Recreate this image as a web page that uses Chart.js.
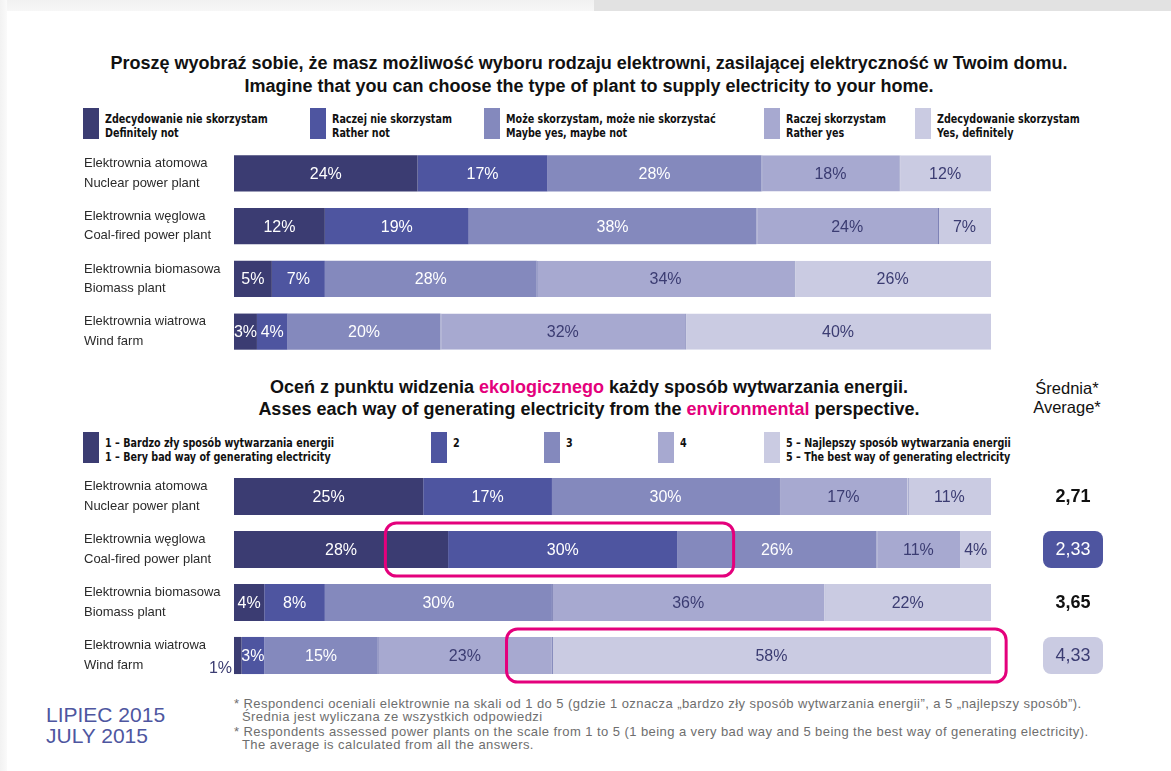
<!DOCTYPE html>
<html lang="pl">
<head>
<meta charset="utf-8">
<title>Elektrownie - lipiec 2015</title>
<script src="https://cdn.jsdelivr.net/npm/chart.js@4.4.1/dist/chart.umd.min.js"></script>
<style>
    html, body { margin: 0; padding: 0; }
    body {
        width: 1171px; height: 771px; position: relative; overflow: hidden;
        background: #fff; color: #111;
        font-family: 'Liberation Sans', Arial, Helvetica, sans-serif;
    }
    .strip-top { position: absolute; left: 0; top: 0; width: 594px; height: 11px; background: linear-gradient(#f1f1f1, #f7f7f7); }
    .strip-top-r { position: absolute; left: 594px; top: 0; right: 0; height: 11px; background: #e2e2e2; }
    .strip-left { position: absolute; left: 0; top: 0; width: 7px; bottom: 0; background: linear-gradient(90deg, #f2f2f2, #fafafa); }
    .title { position: absolute; left: 0; width: 1178px; text-align: center; font-size: 18px; font-weight: bold; line-height: 23px; white-space: nowrap; }
    .pink { color: #e4007c; }
    .avg-head { position: absolute; left: 1017px; width: 100px; top: 379px; text-align: center; font-size: 16.5px; line-height: 19px; }
    .swatch { position: absolute; width: 16px; height: 31px; }
    .legend-text {
        position: absolute; white-space: nowrap; color: #111;
        font-family: 'DejaVu Sans Condensed', 'Liberation Sans', sans-serif;
        font-weight: bold; font-size: 13px; line-height: 14px;
        transform: scaleX(0.82); transform-origin: 0 0;
    }
    canvas { position: absolute; left: 0; }
    .date { position: absolute; left: 46px; top: 704px; font-size: 21px; line-height: 21px; color: #4e56a0; }
    .note {
        position: absolute; left: 234px; width: 900px; font-size: 13px; line-height: 13px; color: #6e6e6e;
        letter-spacing: 0.43px; padding-left: 8px; text-indent: -8px;
    }
</style>
</head>
<body>
<div class="strip-top"></div>
<div class="strip-top-r"></div>
<div class="strip-left"></div>

<div class="title" style="top:52px">Proszę wyobraź sobie, że masz możliwość wyboru rodzaju elektrowni, zasilającej elektryczność w Twoim domu.<br>Imagine that you can choose the type of plant to supply electricity to your home.</div>
<div id="legend-top"></div>
<canvas id="chart-top" width="1171" height="211" style="top:147px"></canvas>

<div class="title" style="top:376px;line-height:22px">Oceń z punktu widzenia <span class="pink">ekologicznego</span> każdy sposób wytwarzania energii.<br>Asses each way of generating electricity from the <span class="pink">environmental</span> perspective.</div>
<div class="avg-head">Średnia*<br>Average*</div>
<div id="legend-bottom"></div>
<canvas id="chart-bottom" width="1171" height="232" style="top:460px"></canvas>

<div class="date">LIPIEC 2015<br>JULY 2015</div>
<div class="note" style="top:697px">* Respondenci oceniali elektrownie na skali od 1 do 5 (gdzie 1 oznacza „bardzo zły sposób wytwarzania energii”, a 5 „najlepszy sposób”).<br>Średnia jest wyliczana ze wszystkich odpowiedzi</div>
<div class="note" style="top:725px">* Respondents assessed power plants on the scale from 1 to 5 (1 being a very bad way and 5 being the best way of generating electricity).<br>The average is calculated from all the answers.</div>

<script>
// plants (both charts share them)
var plantsPl = ['Elektrownia atomowa', 'Elektrownia węglowa', 'Elektrownia biomasowa', 'Elektrownia wiatrowa'];
var plantsEn = ['Nuclear power plant', 'Coal-fired power plant', 'Biomass plant', 'Wind farm'];

// top chart - would you use this plant (%)
var choiceLabelsPl = ['Zdecydowanie nie skorzystam', 'Raczej nie skorzystam', 'Może skorzystam, może nie skorzystać', 'Raczej skorzystam', 'Zdecydowanie skorzystam'];
var choiceLabelsEn = ['Definitely not', 'Rather not', 'Maybe yes, maybe not', 'Rather yes', 'Yes, definitely'];
var definitelyNot = [24, 12, 5, 3];
var ratherNot     = [17, 19, 7, 4];
var maybe         = [28, 38, 28, 20];
var ratherYes     = [18, 24, 34, 32];
var definitelyYes = [12, 7, 26, 40];

// bottom chart - environmental rating 1..5 (%)
var ratingLabelsPl = ['1 – Bardzo zły sposób wytwarzania energii', '2', '3', '4', '5 – Najlepszy sposób wytwarzania energii'];
var ratingLabelsEn = ['1 – Bery bad way of generating electricity', '', '', '', '5 – The best way of generating electricity'];
var rating1 = [25, 28, 4, 1];
var rating2 = [17, 30, 8, 3];
var rating3 = [30, 26, 30, 15];
var rating4 = [17, 11, 36, 23];
var rating5 = [11, 4, 22, 58];
var averages = [2.71, 2.33, 3.65, 4.33];

// styling
var colors = ['#3b3c72', '#4e55a0', '#8489bd', '#a7a9d0', '#cacbe2'];
var navy = '#3b3c72';
var pink = '#e4007c';
var fontFamily = "'Liberation Sans', Arial, Helvetica, sans-serif";

// legend layout (left edge of each swatch)
var legendTopX = [83, 310, 484, 764, 915];
var legendBottomX = [83, 431, 544, 658, 764];

function buildLegend(id, top, xs, linesPl, linesEn) {
    var box = document.getElementById(id);
    xs.forEach(function(x, i) {
        var sw = document.createElement('div');
        sw.className = 'swatch';
        sw.style.left = x + 'px';
        sw.style.top = top + 'px';
        sw.style.background = colors[i];
        box.appendChild(sw);

        var txt = document.createElement('div');
        txt.className = 'legend-text';
        txt.style.left = (x + 22) + 'px';
        txt.style.top = (top + 4) + 'px';
        txt.innerHTML = linesPl[i] + (linesEn[i] ? '<br>' + linesEn[i] : '');
        box.appendChild(txt);
    });
}

// rows are shown as 100% stacked bars (rounded shares don't always add to 100)
function toShares(series) {
    var totals = plantsPl.map(function(_, j) {
        return series.reduce(function(s, r) { return s + r[j]; }, 0);
    });
    return series.map(function(r) {
        return r.map(function(v, j) { return v * 100 / totals[j]; });
    });
}

var segmentLabels = {
    id: 'segmentLabels',
    afterDatasetsDraw: function(chart) {
        var ctx = chart.ctx;
        ctx.save();
        ctx.font = '16px ' + fontFamily;
        ctx.textBaseline = 'middle';
        chart.data.datasets.forEach(function(ds, i) {
            chart.getDatasetMeta(i).data.forEach(function(bar, j) {
                var v = ds.printed[j];
                if (v < 2) {
                    // too thin: put it under the start of the bar
                    ctx.textAlign = 'right';
                    ctx.fillStyle = navy;
                    ctx.fillText(v + '%', bar.base - 2, bar.y + bar.height / 2 - 5);
                    return;
                }
                ctx.textAlign = 'center';
                ctx.fillStyle = i < 3 ? '#fff' : navy;
                ctx.fillText(v + '%', (bar.x + bar.base) / 2, bar.y + 1);
            });
        });
        ctx.restore();
    }
};

var averageColumn = {
    id: 'averageColumn',
    afterDraw: function(chart, args, opts) {
        if (!opts.values) return;
        var ctx = chart.ctx;
        var xs = chart.scales.x;
        var meta = chart.getDatasetMeta(0);
        ctx.save();

        // highlight frames
        ctx.strokeStyle = pink;
        ctx.lineWidth = 3;
        (opts.highlights || []).forEach(function(h) {
            var bar = meta.data[h.row];
            var x0 = xs.getPixelForValue(h.from);
            var x1 = xs.getPixelForValue(h.to);
            var y0 = bar.y - bar.height / 2 - 8;
            var y1 = bar.y + bar.height / 2 + 8;
            ctx.beginPath();
            ctx.roundRect(x0, y0, x1 - x0, y1 - y0, 11);
            ctx.stroke();
        });

        // averages
        ctx.textAlign = 'center';
        ctx.textBaseline = 'middle';
        opts.values.forEach(function(v, j) {
            var bar = meta.data[j];
            var cx = chart.chartArea.right + 82;
            var style = opts.badges[j];
            if (style) {
                ctx.fillStyle = style.bg;
                ctx.beginPath();
                ctx.roundRect(cx - 30, bar.y - bar.height / 2, 60, bar.height, 8);
                ctx.fill();
                ctx.fillStyle = style.fg;
                ctx.font = '18px ' + fontFamily;
            } else {
                ctx.fillStyle = '#111';
                ctx.font = 'bold 18px ' + fontFamily;
            }
            ctx.fillText(v.toFixed(2).replace('.', ','), cx, bar.y + 1);
        });
        ctx.restore();
    }
};

function renderStack(canvasId, series, padTop, thickness, pluginOpts) {
    var plotted = toShares(series);
    new Chart(document.getElementById(canvasId), {
        type: 'bar',
        data: {
            labels: plantsPl.map(function(p, j) { return [p, plantsEn[j]]; }),
            datasets: series.map(function(s, i) {
                return {
                    data: plotted[i],
                    printed: s,
                    backgroundColor: colors[i],
                    borderColor: '#7d82b6',
                    borderWidth: i > 2 ? { left: 1, right: 0, top: 0, bottom: 0 } : 0,
                    borderSkipped: false,
                    barPercentage: 1,
                    categoryPercentage: thickness
                };
            })
        },
        options: {
            indexAxis: 'y',
            responsive: false,
            animation: false,
            layout: { padding: { left: 84, right: 180, top: padTop, bottom: padTop } },
            plugins: {
                legend: { display: false },
                tooltip: { enabled: false },
                averageColumn: pluginOpts || {}
            },
            scales: {
                x: { stacked: true, min: 0, max: 100, display: false },
                y: {
                    stacked: true,
                    grid: { display: false },
                    border: { display: false },
                    afterFit: function(scale) {
                        // fixed label column, and no extra room for the two-line labels
                        scale.width = 150;
                        scale.paddingTop = 0;
                        scale.paddingBottom = 0;
                    },
                    ticks: {
                        crossAlign: 'far',
                        padding: 0,
                        color: '#2a2a2a',
                        font: { family: fontFamily, size: 13, lineHeight: 1.5 }
                    }
                }
            }
        },
        plugins: [segmentLabels, averageColumn]
    });
}

buildLegend('legend-top', 108, legendTopX, choiceLabelsPl, choiceLabelsEn);
buildLegend('legend-bottom', 432, legendBottomX, ratingLabelsPl, ratingLabelsEn);

renderStack('chart-top', [definitelyNot, ratherNot, maybe, ratherYes, definitelyYes], 0, 0.685);
renderStack('chart-bottom', [rating1, rating2, rating3, rating4, rating5], 10, 0.7, {
    values: averages,
    badges: [null, { bg: colors[1], fg: '#fff' }, null, { bg: colors[4], fg: navy }],
    highlights: [{ row: 1, from: 20, to: 66 }, { row: 3, from: 36, to: 102 }]
});
</script>
</body>
</html>
